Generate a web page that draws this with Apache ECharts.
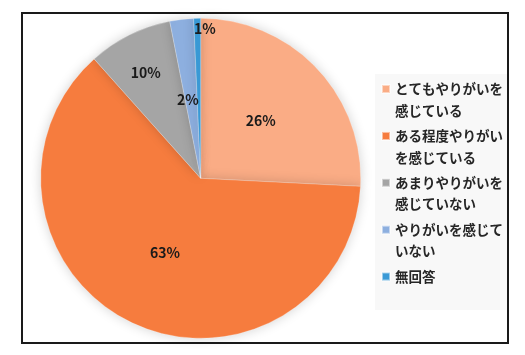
<!DOCTYPE html>
<html lang="ja">
<head>
    <meta charset="UTF-8">
    <title>やりがい</title>
    <script src="https://cdn.jsdelivr.net/npm/echarts@6/dist/echarts.min.js"></script>
    <style>
        html, body { margin: 0; padding: 0; background: #fff; }
        #frame { position: absolute; left: 21px; top: 12px; width: 484px; height: 328px; border: 2px solid #1a1a1a; }
        #main { position: absolute; left: 0; top: 0; width: 525px; height: 355px; }
    </style>
</head>
<body>
<div id="frame"></div>
<div id="main"></div>
<script type="text/javascript">
    // 回答カテゴリ
    var categories = ['とてもやりがいを感じている', 'ある程度やりがいを感じている', 'あまりやりがいを感じていない', 'やりがいを感じていない', '無回答'];
    // 扇形の割合
    var values = [25.8, 62.6, 8.5, 2.4, 0.7];
    // 表示ラベル
    var labels = ['26%', '63%', '10%', '2%', '1%'];
    var colors = ['#FAAC85', '#F67C3E', '#A5A5A5', '#8DAFDF', '#3A9AD6'];

    // ラベル位置の微調整
    var labelShift = [[0, 0], [0, 0], [-18, -31], [-3, 4], [6, -67]];

    var font = '"Noto Sans CJK JP", "Noto Sans", sans-serif';

    var pieData = [];
    for (var i = 0; i < categories.length; i++) {
        pieData.push({ name: categories[i], value: values[i], itemStyle: { color: colors[i] } });
    }

    var myChart = echarts.init(document.getElementById('main'));
    myChart.setOption({
        animation: false,
        legend: {
            orient: 'vertical',
            left: 375,
            top: 74,
            padding: [3, 4, 0, 6],
            backgroundColor: '#F8F8F8',
            itemWidth: 8,
            itemHeight: 43.4,
            itemGap: 1.5,
            icon: 'path://M0,7h8v8h-8zM0,0M8,43.4',
            data: categories,
            formatter: function (name) {
                var lines = [];
                for (var k = 0; k < name.length; k += 8) lines.push(name.slice(k, k + 8));
                if (lines.length < 2) lines.push(' ');
                return lines.join('\n');
            },
            textStyle: {
                fontFamily: font,
                fontSize: 13.5,
                fontWeight: 'bold',
                color: '#262626',
                lineHeight: 21.7
            }
        },
        series: [{
            type: 'pie',
            center: [200.7, 178.3],
            radius: 160,
            startAngle: 90,
            clockwise: true,
            data: pieData,
            itemStyle: {
                borderColor: 'rgba(255,255,255,0.5)',
                borderWidth: 0.5,
                shadowBlur: 12,
                shadowColor: 'rgba(0,0,0,0.18)'
            },
            label: {
                position: 'inside',
                fontFamily: font,
                fontSize: 14,
                fontWeight: 'bold',
                color: '#1a1a1a',
                formatter: function (p) { return labels[p.dataIndex]; }
            },
            labelLayout: function (p) {
                return { dx: labelShift[p.dataIndex][0], dy: labelShift[p.dataIndex][1] };
            },
            emphasis: { disabled: true }
        }]
    });
</script>
</body>
</html>
